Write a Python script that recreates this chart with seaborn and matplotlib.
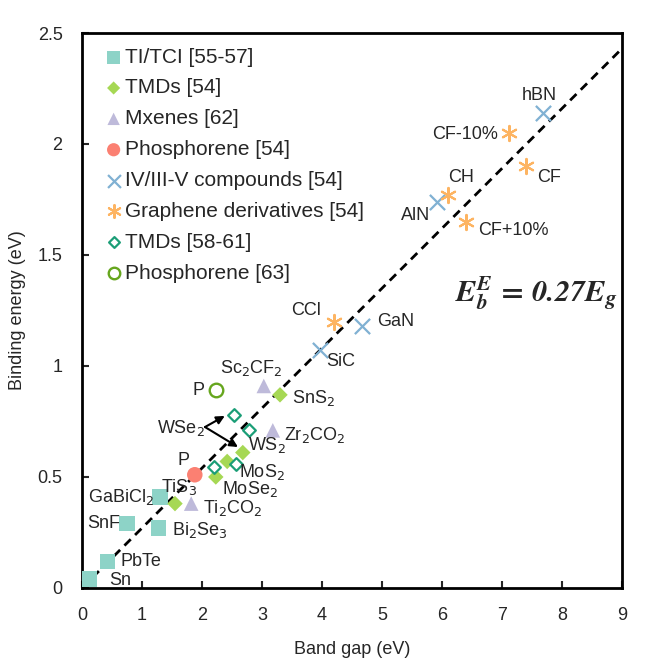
import matplotlib
matplotlib.use("Agg")
import matplotlib.pyplot as plt
import seaborn as sns
import numpy as np
import pandas as pd

sns.set_style("white")
plt.rcParams['font.family'] = ['Liberation Sans', 'DejaVu Sans']

# ---------------- data ----------------
ti_names = ["Sn", "PbTe", "SnF", "Bi$_2$Se$_3$", "GaBiCl$_2$"]
ti_gap = [0.12, 0.42, 0.75, 1.28, 1.30]
ti_eb = [0.04, 0.12, 0.29, 0.27, 0.41]

tmd_names = ["TiS$_3$", "MoSe$_2$", "MoS$_2$", "WS$_2$", "SnS$_2$"]
tmd_gap = [1.55, 2.23, 2.42, 2.68, 3.30]
tmd_eb = [0.38, 0.50, 0.57, 0.61, 0.87]

mx_names = ["Ti$_2$CO$_2$", "Sc$_2$CF$_2$", "Zr$_2$CO$_2$"]
mx_gap = [1.82, 3.03, 3.18]
mx_eb = [0.38, 0.91, 0.71]

ph54_gap = [1.88]
ph54_eb = [0.51]

iv_names = ["SiC", "GaN", "AlN", "hBN"]
iv_gap = [3.97, 4.67, 5.92, 7.68]
iv_eb = [1.07, 1.18, 1.74, 2.14]

gr_names = ["CCl", "CH", "CF-10%", "CF", "CF+10%"]
gr_gap = [4.20, 6.10, 7.12, 7.40, 6.40]
gr_eb = [1.20, 1.77, 2.05, 1.90, 1.65]

tmd2_gap = [2.54, 2.78, 2.20, 2.57]
tmd2_eb = [0.78, 0.71, 0.545, 0.56]

ph63_gap = [2.23]
ph63_eb = [0.89]

legend_labels = ["TI/TCI [55-57]", "TMDs [54]", "Mxenes [62]", "Phosphorene [54]",
                 "IV/III-V compounds [54]", "Graphene derivatives [54]",
                 "TMDs [58-61]", "Phosphorene [63]"]

slope = 0.27
x_ticks = [0, 1, 2, 3, 4, 5, 6, 7, 8, 9]
y_ticks = [0, 0.5, 1, 1.5, 2, 2.5]
y_ticklabels = ["0", "0.5", "1", "1.5", "2", "2.5"]

# ---------------- figure ----------------
fig = plt.figure(figsize=(6.57, 6.64), dpi=100)
ax = fig.add_axes([0.1248, 0.1145, 0.8219, 0.8358])

# fit line
xl = np.array([0.0, 9.0])
sns.lineplot(x=xl, y=slope * xl, ax=ax, color="black", lw=2.0,
             linestyle=(0, (3.2, 2.2)), zorder=1)

groups = [
    (ti_gap, ti_eb, dict(marker="s", s=120, color="#8dd3c7", edgecolor="none")),
    (tmd_gap, tmd_eb, dict(marker="D", s=62, color="#a6d854", edgecolor="none")),
    (mx_gap, mx_eb, dict(marker="^", s=110, color="#bebada", edgecolor="none")),
    (ph54_gap, ph54_eb, dict(marker="o", s=125, color="#fb8072", edgecolor="none")),
    (iv_gap, iv_eb, dict(marker="x", s=120, color="#80b1d3", linewidth=1.6)),
    (gr_gap, gr_eb, dict(marker=(6, 2, 0), s=120, color="#fdb462", linewidth=1.5)),
    (tmd2_gap, tmd2_eb, dict(marker="D", s=42, facecolor="white", edgecolor="#1b9e77", linewidth=1.6)),
    (ph63_gap, ph63_eb, dict(marker="o", s=95, facecolor="white", edgecolor="#66a61e", linewidth=1.7)),
]
for (gx, gy, kw), lab in zip(groups, legend_labels):
    sns.scatterplot(x=gx, y=gy, ax=ax, label=lab, zorder=3, **kw)

# ---------------- point labels ----------------
fs = 13
def lbl(x, y, t, ha="left"):
    ax.text(x, y, t, fontsize=fs, ha=ha, va="center", zorder=4)

lbl(0.45, 0.035, "Sn")
lbl(0.65, 0.12, "PbTe")
lbl(0.63, 0.29, "SnF", ha="right")
lbl(1.50, 0.26, "Bi$_2$Se$_3$")
lbl(1.20, 0.41, "GaBiCl$_2$", ha="right")
lbl(1.62, 0.455, "TiS$_3$", ha="center")
lbl(2.01, 0.36, "Ti$_2$CO$_2$")
lbl(2.33, 0.448, "MoSe$_2$")
lbl(2.62, 0.524, "MoS$_2$")
lbl(2.76, 0.645, "WS$_2$")
lbl(3.37, 0.69, "Zr$_2$CO$_2$")
lbl(3.50, 0.855, "SnS$_2$")
lbl(2.83, 0.99, "Sc$_2$CF$_2$", ha="center")
lbl(1.70, 0.575, "P", ha="center")
lbl(2.04, 0.89, "P", ha="right")
lbl(4.07, 1.02, "SiC")
lbl(4.92, 1.20, "GaN")
lbl(3.98, 1.25, "CCl", ha="right")
lbl(5.80, 1.68, "AlN", ha="right")
lbl(6.32, 1.85, "CH", ha="center")
lbl(6.93, 2.045, "CF-10%", ha="right")
lbl(7.63, 2.22, "hBN", ha="center")
lbl(7.58, 1.85, "CF")
lbl(6.60, 1.61, "CF+10%")
lbl(2.05, 0.72, "WSe$_2$", ha="right")

arrow_kw = dict(arrowstyle="-|>", color="black", lw=1.5, mutation_scale=12,
                shrinkA=0, shrinkB=0)
ax.annotate("", xy=(2.38, 0.775), xytext=(2.05, 0.725), arrowprops=arrow_kw, zorder=4)
ax.annotate("", xy=(2.60, 0.635), xytext=(2.05, 0.725), arrowprops=arrow_kw, zorder=4)

ax.text(8.93, 1.33,
        r"$\mathbfit{E}_{\mathbfit{b}}^{\mathbfit{E}}\mathbf{\,=\,}\mathbfit{0.27E}_{\mathbfit{g}}$",
        fontsize=22, ha="right", va="center", math_fontfamily="stix")

# ---------------- axes ----------------
ax.set_xlim(0, 9)
ax.set_ylim(0, 2.5)
ax.set_xticks(x_ticks)
ax.set_yticks(y_ticks)
ax.set_yticklabels(y_ticklabels)
ax.tick_params(direction="in", length=5, width=1.5, labelsize=13, pad=14,
               bottom=True, left=True)
for sp in ax.spines.values():
    sp.set_linewidth(2)
    sp.set_color("black")
    sp.set_visible(True)
ax.set_xlabel("Band gap (eV)", fontsize=13, labelpad=12)
ax.set_ylabel("Binding energy (eV)", fontsize=13, labelpad=8)

ax.legend(loc="upper left", frameon=False, fontsize=15, handlelength=0.6,
          handletextpad=0.25, labelspacing=0.57, borderaxespad=0.3,
          markerscale=0.85, bbox_to_anchor=(0.02, 1.0))

fig.savefig("out.png", dpi=100, facecolor="white")
